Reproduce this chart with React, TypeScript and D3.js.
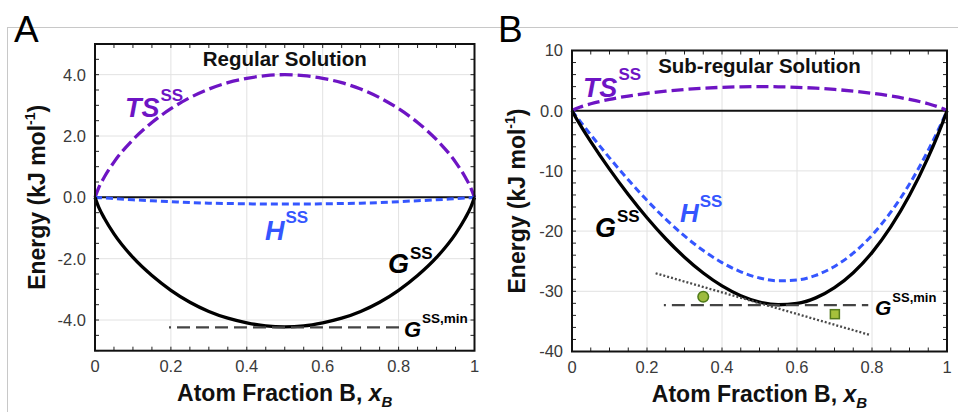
import React from "react";
import * as d3 from "d3";

// ---------- data ----------
const xFrac = [0, 0.01, 0.025, 0.05, 0.1, 0.15, 0.2, 0.25, 0.3, 0.35, 0.4, 0.45, 0.5, 0.55, 0.6, 0.65, 0.7, 0.75, 0.8, 0.85, 0.9, 0.95, 0.975, 0.99, 1];

// Panel A: regular solution (kJ/mol)
const tsA = [0, 0.32, 0.67, 1.15, 1.88, 2.44, 2.89, 3.25, 3.53, 3.74, 3.88, 3.97, 4.0, 3.97, 3.88, 3.74, 3.53, 3.25, 2.89, 2.44, 1.88, 1.15, 0.67, 0.32, 0];
const hA = [0, -0.01, -0.02, -0.04, -0.08, -0.11, -0.14, -0.17, -0.19, -0.2, -0.21, -0.22, -0.22, -0.22, -0.21, -0.2, -0.19, -0.17, -0.14, -0.11, -0.08, -0.04, -0.02, -0.01, 0];
const gA = [0, -0.33, -0.69, -1.19, -1.96, -2.55, -3.03, -3.42, -3.72, -3.94, -4.09, -4.19, -4.22, -4.19, -4.09, -3.94, -3.72, -3.42, -3.03, -2.55, -1.96, -1.19, -0.69, -0.33, 0];
const gMinLineAx = [0.195, 0.805];
const gMinA = -4.24;

// Panel B: sub-regular solution (kJ/mol)
const tsB = [0, 0.32, 0.67, 1.15, 1.88, 2.44, 2.89, 3.25, 3.53, 3.74, 3.88, 3.97, 4.0, 3.97, 3.88, 3.74, 3.53, 3.25, 2.89, 2.44, 1.88, 1.15, 0.67, 0.32, 0];
const hB = [0, -0.81, -2.01, -3.99, -7.83, -11.48, -14.89, -18.02, -20.81, -23.23, -25.23, -26.76, -27.79, -28.26, -28.13, -27.35, -25.87, -23.67, -20.68, -16.86, -12.18, -6.57, -3.41, -1.39, 0];
const gB = [0, -1.13, -2.68, -5.14, -9.71, -13.92, -17.78, -21.27, -24.34, -26.97, -29.11, -30.73, -31.79, -32.23, -32.01, -31.09, -29.4, -26.92, -23.57, -19.3, -14.06, -7.72, -4.08, -1.71, 0];
const gMinLineBx = [0.245, 0.79];
const gMinB = -32.3;
const tangentX = [0.223, 0.797];
const tangentY = [-27.0, -37.3];
const circlePt = [0.35, -30.9];
const squarePt = [0.701, -33.8];

// ticks
const xMajor = [0, 0.2, 0.4, 0.6, 0.8, 1];
const xLabels = ["0", "0.2", "0.4", "0.6", "0.8", "1"];
const yMajorA = [-4, -2, 0, 2, 4];
const yLabelsA = ["-4.0", "-2.0", "0.0", "2.0", "4.0"];
const yMajorB = [-40, -30, -20, -10, 0, 10];
const yLabelsB = ["-40", "-30", "-20", "-10", "0.0", "10"];

const FONT = "'Liberation Sans', Arial, Helvetica, sans-serif";
const PURPLE = "#6e14c4";
const BLUE = "#3556ff";

type Lbl = { x: number; y: number; main: string; sup: string; size: number; supSize: number; dy: number; color: string };

function CurveLabel({ l, xs, ys }: { l: Lbl; xs: any; ys: any }) {
  return (
    <text x={xs(l.x)} y={ys(l.y)} fontFamily={FONT} fontWeight="bold" fill={l.color}>
      <tspan fontStyle="italic" fontSize={l.size}>{l.main}</tspan>
      <tspan fontSize={l.supSize} dy={-l.dy} dx={1}>{l.sup}</tspan>
    </text>
  );
}

function Panel(props: any) {
  const { left, right, top, bottom, yDomain, yMajor, yLabels, yMinorStep, ts, h, g, title, titleY, labels, letter, letterX, yTitleX, minX, minY, tsDash, hDash, extras } = props;
  const xs = d3.scaleLinear().domain([0, 1]).range([left, right]);
  const ys = d3.scaleLinear().domain(yDomain).range([bottom, top]);
  const line = d3
    .line<[number, number]>()
    .x((d) => xs(d[0]))
    .y((d) => ys(d[1]))
    .curve(d3.curveMonotoneX);
  const pts = (arr: number[]) => xFrac.map((x, i) => [x, arr[i]] as [number, number]);
  const xMinor = d3.range(0, 1.0001, 0.05);
  const yMinor = d3.range(yDomain[0], yDomain[1] + 1e-6, yMinorStep);
  const cx = (left + right) / 2;
  const cy = (top + bottom) / 2;
  const tk = 4;
  return (
    <g>
      {/* grid */}
      {xMajor.filter((v) => v > 0 && v < 1).map((v) => (
        <line key={"gx" + v} x1={xs(v)} x2={xs(v)} y1={top} y2={bottom} stroke="#e2e2e2" strokeWidth={1} />
      ))}
      {yMajor.filter((v: number) => v !== 0 && v > yDomain[0] && v < yDomain[1]).map((v: number) => (
        <line key={"gy" + v} x1={left} x2={right} y1={ys(v)} y2={ys(v)} stroke="#e2e2e2" strokeWidth={1} />
      ))}
      {/* ticks */}
      {xMinor.map((v) => (
        <g key={"tx" + v}>
          <line x1={xs(v)} x2={xs(v)} y1={bottom} y2={bottom - tk} stroke="#222" strokeWidth={1} />
          <line x1={xs(v)} x2={xs(v)} y1={top} y2={top + tk} stroke="#222" strokeWidth={1} />
        </g>
      ))}
      {yMinor.map((v: number) => (
        <g key={"ty" + v}>
          <line x1={left} x2={left + tk} y1={ys(v)} y2={ys(v)} stroke="#222" strokeWidth={1} />
          <line x1={right} x2={right - tk} y1={ys(v)} y2={ys(v)} stroke="#222" strokeWidth={1} />
        </g>
      ))}
      {/* zero line */}
      <line x1={left} x2={right} y1={ys(0)} y2={ys(0)} stroke="#111" strokeWidth={2} />
      {/* curves */}
      <path d={line(pts(ts)) || ""} fill="none" stroke={PURPLE} strokeWidth={3.3} strokeDasharray={tsDash} />
      <path d={line(pts(h)) || ""} fill="none" stroke={BLUE} strokeWidth={3} strokeDasharray={hDash} />
      <path d={line(pts(g)) || ""} fill="none" stroke="#000" strokeWidth={3.3} />
      {/* G min line */}
      <line x1={xs(minX[0])} x2={xs(minX[1])} y1={ys(minY)} y2={ys(minY)} stroke="#444" strokeWidth={2.4} strokeDasharray="13 6" strokeDashoffset={11} />
      {extras && extras(xs, ys)}
      {/* frame */}
      <rect x={left} y={top} width={right - left} height={bottom - top} fill="none" stroke="#111" strokeWidth={2} />
      {/* tick labels */}
      {xMajor.map((v, i) => (
        <text key={"lx" + v} x={xs(v)} y={bottom + 21} textAnchor="middle" fontFamily={FONT} fontSize={16.5} fill="#3a3a3a">
          {xLabels[i]}
        </text>
      ))}
      {yMajor.map((v: number, i: number) => (
        <text key={"ly" + v} x={left - 9} y={ys(v)} dy="0.36em" textAnchor="end" fontFamily={FONT} fontSize={16.5} fill="#3a3a3a">
          {yLabels[i]}
        </text>
      ))}
      {/* axis titles */}
      <text x={cx} y={bottom + 50} textAnchor="middle" fontFamily={FONT} fontWeight="bold" fontSize={23} fill="#111">
        Atom Fraction B, <tspan fontStyle="italic">x</tspan>
        <tspan fontStyle="italic" fontSize={15} dy={6}>B</tspan>
      </text>
      <text transform={`translate(${yTitleX},${cy}) rotate(-90)`} textAnchor="middle" fontFamily={FONT} fontWeight="bold" fontSize={23} fill="#111">
        Energy (kJ mol<tspan fontSize={14} dy={-10}>-1</tspan>
        <tspan dy={10}>)</tspan>
      </text>
      {/* inner title */}
      <text x={cx} y={titleY} textAnchor="middle" fontFamily={FONT} fontWeight="bold" fontSize={20.5} fill="#111">
        {title}
      </text>
      {labels.map((l: Lbl, i: number) => (
        <CurveLabel key={"cl" + i} l={l} xs={xs} ys={ys} />
      ))}
      {/* panel letter */}
      <text x={letterX} y={42} fontFamily={FONT} fontSize={37} fill="#000">
        {letter}
      </text>
    </g>
  );
}

const labelsA: Lbl[] = [
  { x: 0.079, y: 2.62, main: "TS", sup: "SS", size: 27, supSize: 17, dy: 16, color: PURPLE },
  { x: 0.448, y: -1.39, main: "H", sup: "SS", size: 27, supSize: 17, dy: 17, color: BLUE },
  { x: 0.772, y: -2.47, main: "G", sup: "SS", size: 27, supSize: 17, dy: 14, color: "#000" },
  { x: 0.814, y: -4.55, main: "G", sup: "SS,min", size: 22, supSize: 13.5, dy: 14, color: "#000" },
];
const labelsB: Lbl[] = [
  { x: 0.029, y: 2.28, main: "TS", sup: "SS", size: 27, supSize: 17, dy: 17, color: PURPLE },
  { x: 0.288, y: -18.5, main: "H", sup: "SS", size: 26, supSize: 17, dy: 15, color: BLUE },
  { x: 0.061, y: -21.0, main: "G", sup: "SS", size: 27, supSize: 17, dy: 15, color: "#000" },
  { x: 0.808, y: -33.9, main: "G", sup: "SS,min", size: 21, supSize: 13, dy: 13, color: "#000" },
];

export default function App() {
  const extrasB = (xs: any, ys: any) => (
    <g>
      <line x1={xs(tangentX[0])} y1={ys(tangentY[0])} x2={xs(tangentX[1])} y2={ys(tangentY[1])} stroke="#4a4a4a" strokeWidth={2.3} strokeDasharray="2 2" />
      <circle cx={xs(circlePt[0])} cy={ys(circlePt[1])} r={5.3} fill="#9dbb3d" stroke="#4e7a18" strokeWidth={1.5} />
      <rect x={xs(squarePt[0]) - 4.5} y={ys(squarePt[1]) - 4.5} width={9} height={9} fill="#a5c03c" stroke="#557a1e" strokeWidth={1.5} />
    </g>
  );
  return (
    <svg width={958} height={412} style={{ position: "absolute", left: 0, top: 0, background: "#fff" }}>
      <rect x={0} y={0} width={958} height={412} fill="#fff" />
      <line x1={7} x2={958} y1={27.5} y2={27.5} stroke="#c8c8c8" strokeWidth={1} />
      <line x1={7.5} x2={7.5} y1={27} y2={412} stroke="#c8c8c8" strokeWidth={1} />
      <Panel
        left={95}
        right={474.5}
        top={44}
        bottom={350.7}
        yDomain={[-5, 5]}
        yMajor={yMajorA}
        yLabels={yLabelsA}
        yMinorStep={0.5}
        ts={tsA}
        h={hA}
        g={gA}
        title="Regular Solution"
        titleY={66}
        labels={labelsA}
        letter="A"
        letterX={14}
        yTitleX={45}
        minX={gMinLineAx}
        minY={gMinA}
        tsDash="13 5"
        hDash="7 4"
      />
      <Panel
        left={572}
        right={947}
        top={50.5}
        bottom={351.5}
        yDomain={[-40, 10]}
        yMajor={yMajorB}
        yLabels={yLabelsB}
        yMinorStep={2}
        ts={tsB}
        h={hB}
        g={gB}
        title="Sub-regular Solution"
        titleY={73}
        labels={labelsB}
        letter="B"
        letterX={498}
        yTitleX={525}
        minX={gMinLineBx}
        minY={gMinB}
        tsDash="12 5"
        hDash="7 4"
        extras={extrasB}
      />
    </svg>
  );
}
